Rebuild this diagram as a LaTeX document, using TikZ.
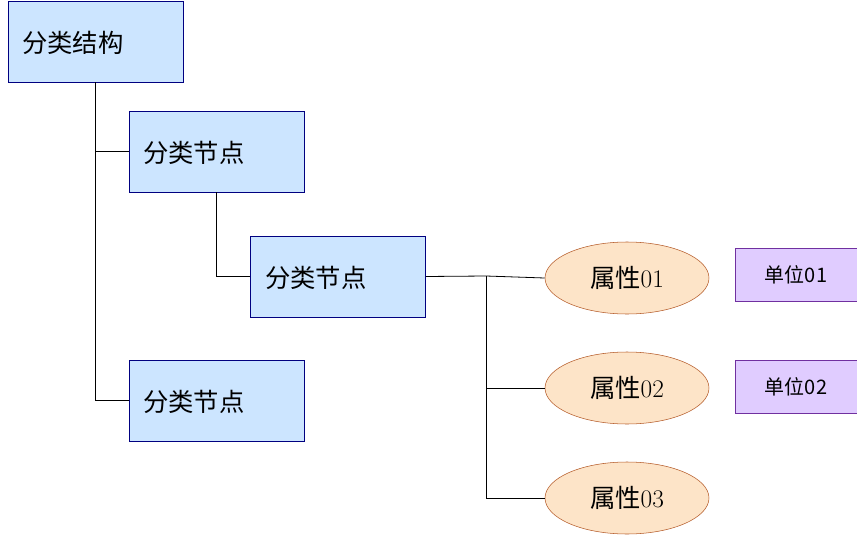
\documentclass[tikz,border=0pt]{standalone}
\usepackage{fontspec}
\newfontfamily\cjk{Noto Sans CJK SC}
\usetikzlibrary{shapes.geometric}
\begin{document}
\begin{tikzpicture}[x=0.75pt,y=-0.75pt,
 box/.style={draw=blue!50!black,fill=blue!20!cyan!10!white,fill={rgb,255:red,204;green,229;blue,255},minimum width=131.25pt,minimum height=60.75pt,inner sep=0pt},
 ell/.style={ellipse,draw={rgb,255:red,180;green,90;blue,40},fill={rgb,255:red,253;green,228;blue,200},minimum width=123pt,minimum height=54pt,inner sep=0pt},
 unit/.style={draw={rgb,255:red,112;green,48;blue,160},fill={rgb,255:red,224;green,204;blue,255},minimum width=91.5pt,minimum height=40pt,inner sep=0pt},
 lbl/.style={font=\cjk\fontsize{19}{22}\selectfont,anchor=west,inner sep=0pt},
 line/.style={draw=black,line width=0.6pt}]
\useasboundingbox (0,0) rectangle (857,539);
\node[box] (r) at (95.5,41.5) {};
\node[lbl] at (22,43) {分类结构};
\node[box] (a) at (216.5,151.5) {};
\node[lbl] at (143,153) {分类节点};
\node[box] (b) at (338,276.5) {};
\node[lbl] at (265,278) {分类节点};
\node[box] (c) at (216.5,400.5) {};
\node[lbl] at (143,402) {分类节点};
\node[ell] (e1) at (627,278) {\cjk\fontsize{19}{22}\selectfont 属性\rmfamily 01};
\node[ell] (e2) at (627,388) {\cjk\fontsize{19}{22}\selectfont 属性\rmfamily 02};
\node[ell] (e3) at (627,498) {\cjk\fontsize{19}{22}\selectfont 属性\rmfamily 03};
\node[unit] (u1) at (796,275) {\cjk\fontsize{15}{18}\selectfont 单位01};
\node[unit] (u2) at (796,386.5) {\cjk\fontsize{15}{18}\selectfont 单位02};
\coordinate (j) at (486,276);
\draw[line] (r.south) |- (a.west);
\draw[line] (r.south) |- (c.west);
\draw[line] (a.south) |- (b.west);
\draw[line] (b.east) -- (j) -- (e1.west);
\draw[line] (j) |- (e2.west);
\draw[line] (j) |- (e3.west);
\end{tikzpicture}
\end{document}
